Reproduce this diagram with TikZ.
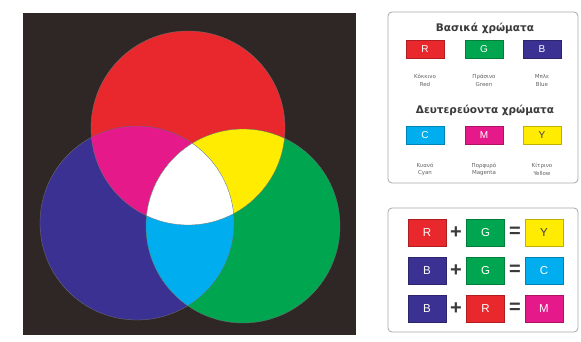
\documentclass[tikz,border=0pt]{standalone}
\usepackage{fontspec}
\setmainfont{Liberation Sans}
\newfontfamily\wide{DejaVu Sans}
\usetikzlibrary{positioning}
\definecolor{bg}{HTML}{2E2725}
\definecolor{rd}{HTML}{E8282C}
\definecolor{gn}{HTML}{00A54F}
\definecolor{bl}{HTML}{3B3192}
\definecolor{cy}{HTML}{00AEEF}
\definecolor{mg}{HTML}{E6198B}
\definecolor{yl}{HTML}{FFEC00}
\definecolor{ink}{HTML}{3A3A3A}
\tikzset{sw/.style={draw=#1!75!black,fill=#1,minimum width=38pt,minimum height=18pt,inner sep=0pt,text=white,font=\fontsize{10}{12}\selectfont},
  eq/.style={sw=#1,minimum height=27pt,font=\fontsize{11.5}{13}\selectfont},
  lbl/.style={font=\wide\fontsize{5.5}{7.5}\selectfont,align=center,text=ink!80},
  ttl/.style={font=\wide\fontsize{10.5}{12}\selectfont\bfseries,text=ink},
  op/.style={font=\fontsize{20}{20}\selectfont\bfseries,text=ink,inner sep=0pt},
  panel/.style={draw=black!35,rounded corners=4pt,line width=.8pt}}

\begin{document}
\begin{tikzpicture}[x=1pt,y=-1pt]
\useasboundingbox (0,0) rectangle (581,342);
% light mixing picture
\fill[bg] (23,13) rectangle (356,335);
\coordinate (cR) at (188,128);
\coordinate (cB) at (137,223);
\coordinate (cG) at (243,226);
\fill[rd] (cR) circle (97);
\fill[bl] (cB) circle (97);
\fill[gn] (cG) circle (97);
\begin{scope}
\clip (cR) circle (97);
\fill[mg] (cB) circle (97);
\fill[yl] (cG) circle (97);
\end{scope}
\begin{scope}
\clip (cB) circle (97);
\fill[cy] (cG) circle (97);
\clip (cG) circle (97);
\fill[white] (cR) circle (97);
\end{scope}
\foreach \c in {cR,cB,cG}{\draw[black!55,line width=.3pt] (\c) circle (97);}
% primary and secondary colours
\draw[panel] (388,12) rectangle (578,183);
\node[ttl] (t1) at (485,28) {Βασικά χρώματα};
\foreach \n/\c/\x/\gr/\en in {R/rd/425/Κόκκινο/Red,G/gn/484/Πράσινο/Green,B/bl/542/Μπλε/Blue}{
  \node[sw=\c] (s\n) at (\x,49.5) {\n};
  \node[lbl] (l\n) at (\x,80.5) {\gr\\\en};}
\node[ttl] (t2) at (485,110) {Δευτερεύοντα χρώματα};
\node[sw=cy] (sC) at (425,135.5) {C};
\node[sw=mg] (sM) at (484,135.5) {M};
\node[sw=yl,text=ink] (sY) at (542,135.5) {Y};
\foreach \n/\x/\gr/\en in {C/425/Κυανό/Cyan,M/484/Πορφυρό/Magenta,Y/542/Κίτρινο/Yellow}{
  \node[lbl] (l\n) at (\x,169.5) {\gr\\\en};}
% sums
\draw[panel] (388,208) rectangle (578,332);
\foreach \i/\a/\ca/\b/\cb/\r/\cr/\tr/\y in {1/R/rd/G/gn/Y/yl/ink/232.5,2/B/bl/G/gn/C/cy/white/270.5,3/B/bl/R/rd/M/mg/white/308.5}{
  \node[eq=\ca] (a\i) at (427,\y) {\a};
  \node[op] (p\i) at (456,\y) {+};
  \node[eq=\cb] (b\i) at (485.5,\y) {\b};
  \node[op] (q\i) at (515,\y) {=};
  \node[eq=\cr,text=\tr] (r\i) at (544,\y) {\r};}
\end{tikzpicture}
\end{document}
